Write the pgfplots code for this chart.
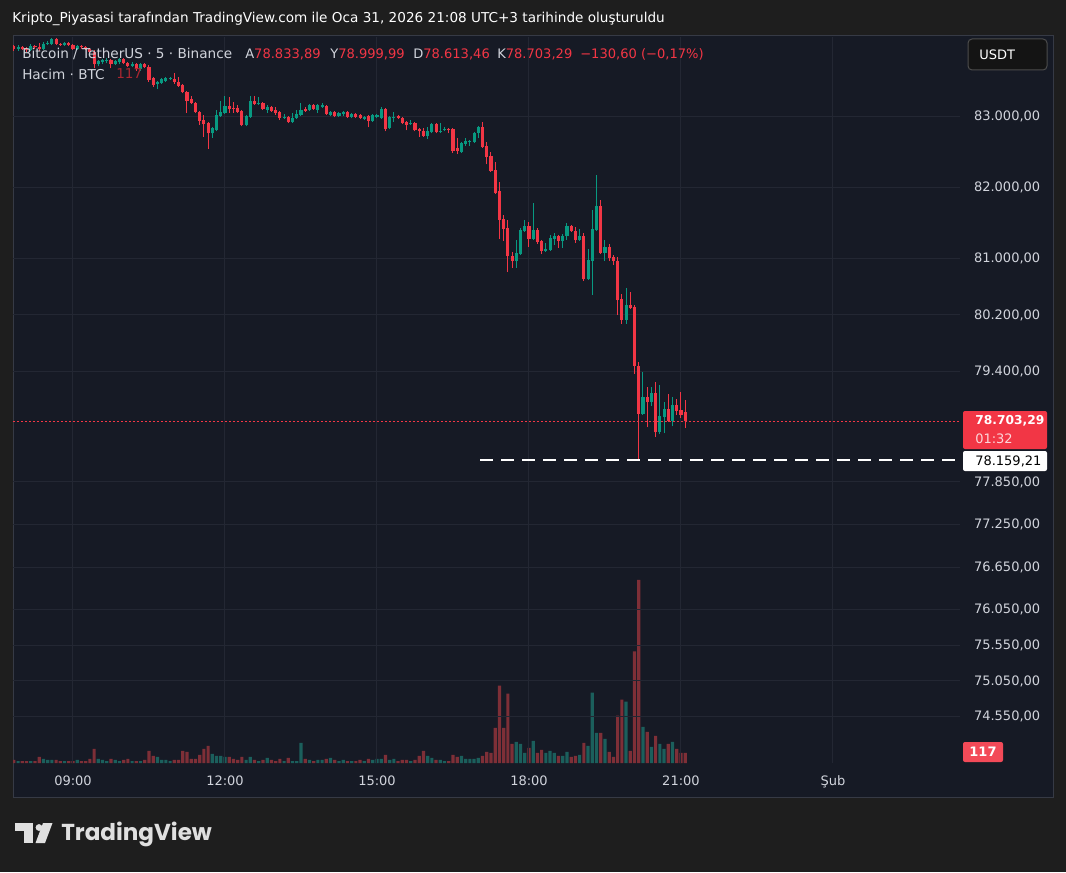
\documentclass[border=0pt]{standalone}
\usepackage{pgfplots}
\pgfplotsset{compat=1.18}
\usepackage{pgfplotstable}
\usepackage{fontspec}
\setmainfont{DejaVu Sans}
\newfontfamily\tvfont{Poppins}

\definecolor{outerbg}{HTML}{1E1E1E}
\definecolor{panebg}{HTML}{161A25}
\definecolor{paneline}{HTML}{363A45}
\definecolor{gridc}{HTML}{232733}
\definecolor{upc}{HTML}{089981}
\definecolor{dnc}{HTML}{F23645}
\definecolor{upv}{HTML}{1B5F5C}
\definecolor{dnv}{HTML}{7E2F37}
\definecolor{txt}{HTML}{D1D4DC}
\definecolor{logoc}{HTML}{E0E0E0}

\newcommand\tf{\fontsize{9.75}{11.7}\selectfont}
\newcommand\hf{\fontsize{10.2}{12.2}\selectfont}
\newcommand\nf{\fontsize{9.8}{11.8}\selectfont}

% 5-minute bars: n = minutes since 00:00 / 5 ; o h l c in USDT, v in BTC
\pgfplotstableread{
n o h l c v
94 83989 84004 83917 83946 35
96 83975 83989 83931 83946 23
97 83946 83975 83902 83931 23
99 83989 84004 83946 83975 23
100 83975 84033 83917 83946 70
104 84077 84091 84004 84019 35
105 84019 84033 83989 84004 23
107 84033 84048 83989 84004 23
108 84004 84019 83931 83946 23
110 83989 84004 83946 83975 23
111 83975 83989 83931 83946 23
112 83946 83960 83873 83902 47
113 83902 83931 83669 83728 164
117 83786 83800 83669 83728 47
120 83800 83815 83728 83742 35
121 83742 83757 83684 83698 47
123 83728 83742 83640 83655 23
125 83728 83742 83669 83684 35
126 83684 83713 83480 83509 140
127 83538 83553 83407 83437 82
132 83524 83611 83451 83480 35
133 83480 83553 83407 83422 35
134 83437 83451 83320 83335 140
135 83335 83349 83044 83218 129
136 83233 83276 83175 83189 47
137 83189 83204 83044 83058 47
138 83058 83073 82870 82928 94
139 82942 83015 82710 82884 164
140 82899 82913 82536 82754 199
145 83146 83262 83044 83102 70
146 83116 83204 83044 83102 47
147 83116 83160 83044 83058 35
148 83073 83087 82855 82870 70
151 83218 83276 83160 83175 35
153 83189 83204 83087 83102 35
155 83131 83146 83058 83073 35
156 83087 83131 83015 83044 23
157 83058 83073 82942 82971 47
159 82986 83000 82899 82913 59
163 83102 83131 83058 83073 47
165 83160 83175 83087 83102 23
168 83146 83160 83015 83029 47
170 83058 83073 82986 83000 35
173 83058 83073 82971 82986 23
175 83029 83044 82971 82986 23
176 83015 83029 82957 82971 35
178 83000 83015 82841 82928 47
182 83102 83116 82783 82812 94
185 83000 83015 82957 82971 23
186 82971 82986 82884 82899 35
187 82913 82928 82797 82870 35
189 82899 82913 82783 82797 35
190 82812 82826 82710 82783 82
191 82783 82826 82710 82725 140
194 82884 82899 82754 82768 35
197 82812 82826 82754 82797 23
198 82812 82826 82478 82507 94
199 82551 82696 82464 82507 70
205 82841 82913 82551 82565 82
206 82580 82638 82319 82420 129
207 82435 82493 82217 82232 117
208 82246 82348 81900 81914 410
209 81943 82073 81271 81543 901
210 81557 81614 81243 81414 410
211 81428 81543 80803 81029 807
212 81029 81086 80860 80958 222
216 81457 81514 81157 81271 176
218 81400 81428 81200 81228 117
219 81243 81257 81057 81100 152
223 81314 81328 81143 81243 82
226 81457 81471 81371 81386 70
227 81386 81443 81214 81257 82
229 81314 81357 80677 80705 234
233 81728 81814 81057 81071 351
235 81157 81200 80958 81000 129
236 81014 81043 80902 80958 70
237 80958 81014 80200 80410 550
238 80424 80495 80073 80130 737
240 80340 80523 80284 80298 140
241 80312 80340 79373 79484 1299
242 79484 79540 78159.21 78810 2129
244 79043 79180 78618 78975 363
246 79098 79263 78481 78549 316
249 78879 79084 78700 78714 222
251 78934 79016 78796 78851 164
252 78865 79112 78755 78796 117
253 78833.89 78999.99 78613.46 78703.29 117
}\dnbars

\pgfplotstableread{
n o h l c v
95 83946 84004 83917 83975 23
98 83931 84019 83917 83989 23
101 83946 84048 83931 84019 47
102 84019 84062 84004 84033 35
103 84019 84091 84004 84077 35
106 84004 84048 83989 84033 23
109 83946 84004 83931 83989 35
114 83728 83786 83698 83771 47
115 83757 83800 83728 83786 35
116 83771 83815 83742 83786 23
118 83728 83786 83713 83771 35
119 83757 83815 83728 83800 23
122 83698 83757 83684 83728 23
124 83655 83742 83640 83728 23
128 83451 83495 83378 83480 70
129 83466 83538 83451 83524 35
130 83495 83553 83480 83538 35
131 83524 83553 83509 83538 23
141 82754 82841 82696 82826 105
142 82797 83087 82783 83015 82
143 83000 83218 82986 83058 82
144 83044 83276 83029 83146 70
149 82870 83015 82855 83000 35
150 82986 83276 82971 83218 70
152 83175 83262 83160 83189 23
154 83087 83160 83044 83131 59
158 82971 83029 82957 82986 23
160 82913 83044 82899 82971 23
161 82971 83087 82957 83029 23
162 83015 83189 83000 83087 234
164 83087 83175 83073 83160 35
166 83087 83175 83044 83160 35
167 83131 83189 83116 83160 35
169 83015 83073 83000 83058 59
171 83000 83058 82986 83044 23
172 83029 83073 83000 83058 35
174 82986 83044 82971 83029 23
177 82957 83000 82942 82986 23
179 82928 83029 82913 83015 35
180 82986 83029 82971 83015 47
181 82971 83131 82957 83102 47
183 82826 83000 82812 82986 35
184 82971 83058 82913 82986 47
188 82884 82942 82870 82899 23
192 82725 82841 82681 82783 82
193 82768 82899 82754 82884 59
195 82768 82899 82754 82783 35
196 82797 82841 82783 82812 23
200 82493 82638 82478 82623 82
201 82609 82696 82580 82652 47
202 82638 82667 82580 82652 47
203 82638 82768 82623 82754 47
204 82754 82855 82696 82841 59
213 80958 81257 80860 81071 246
214 81057 81428 81043 81400 222
215 81386 81543 81371 81457 117
217 81271 81771 81257 81400 257
220 81100 81214 81086 81129 117
221 81114 81328 81100 81286 140
222 81271 81357 81186 81314 117
224 81243 81343 81143 81314 82
225 81314 81500 81257 81457 129
228 81257 81414 81243 81314 94
230 80705 81129 80691 80972 199
231 80958 81671 80481 81414 819
232 81400 82174 81386 81728 351
234 81071 81257 80958 81157 281
239 80130 80579 80073 80340 714
243 78810 79400 78796 79043 421
245 78975 79180 78920 79098 187
247 78549 79208 78522 78782 222
248 78768 78975 78535 78879 164
250 78714 79043 78632 78934 246
}\upbars

\begin{document}
\begin{tikzpicture}
% frame and pane (1 px = 0.75pt)
\begin{scope}[x=0.75pt, y=0.75pt]
\fill[outerbg] (0,0) rectangle (1066,872);
\fill[panebg] (13,75) rectangle (1053,836);
\draw[paneline, line width=0.75pt] (13,75) rectangle (1053,836);
\end{scope}

% volume pane
\begin{axis}[at={(9.75pt,81.75pt)}, anchor=south west, scale only axis,
    width=710.25pt, height=544.5pt,
    xmin=93.79, xmax=318.09, ymin=0, ymax=8446, hide axis]
  \addplot[ybar, bar width=2.4pt, bar shift=0pt, fill=dnv, draw=none] table[x=n, y=v] {\dnbars};
  \addplot[ybar, bar width=2.4pt, bar shift=0pt, fill=upv, draw=none] table[x=n, y=v] {\upbars};
\end{axis}

% price pane
\begin{axis}[at={(9.75pt,81.75pt)}, anchor=south west, scale only axis,
    width=710.25pt, height=544.5pt,
    xmin=93.79, xmax=318.09,
    ymin=73895, ymax=84112,
    axis line style={draw=none}, major tick length=0pt,
    scaled y ticks=false,
    xtick={108,144,180,216,252,288},
    xticklabels={09:00,12:00,15:00,18:00,21:00,Şub},
    ytick={74550,75050,75550,76050,76650,77250,77850,79400,80200,81000,82000,83000},
    yticklabels={{74.550,00},{75.050,00},{75.550,00},{76.050,00},{76.650,00},{77.250,00},
                 {77.850,00},{79.400,00},{80.200,00},{81.000,00},{82.000,00},{83.000,00}},
    yticklabel pos=right,
    grid=major, major grid style={gridc, line width=0.75pt},
    tick label style={font=\tf, text=txt},
    xticklabel style={yshift=-6pt},
    yticklabel style={anchor=west, xshift=7pt}]
  % wicks
  \addplot[draw=none, forget plot, error bars/.cd, y dir=plus, y explicit, error mark=none,
      error bar style={draw=dnc, line width=0.75pt}]
    table[x=n, y=l, y error plus expr=\thisrow{h}-\thisrow{l}] {\dnbars};
  \addplot[draw=none, forget plot, error bars/.cd, y dir=plus, y explicit, error mark=none,
      error bar style={draw=upc, line width=0.75pt}]
    table[x=n, y=l, y error plus expr=\thisrow{h}-\thisrow{l}] {\upbars};
  % bodies
  \addplot[draw=none, forget plot, error bars/.cd, y dir=plus, y explicit, error mark=none,
      error bar style={draw=dnc, line width=2.3pt}]
    table[x=n, y=c, y error plus expr=\thisrow{o}-\thisrow{c}] {\dnbars};
  \addplot[draw=none, forget plot, error bars/.cd, y dir=plus, y explicit, error mark=none,
      error bar style={draw=upc, line width=2.3pt}]
    table[x=n, y=o, y error plus expr=\thisrow{c}-\thisrow{o}] {\upbars};
  % last price and low line
  \addplot[dnc, line width=1pt, dash pattern=on 1.5pt off 1.5pt] coordinates {(93.79,78703.29) (318.09,78703.29)};
  \addplot[white, line width=1.5pt, dash pattern=on 9.75pt off 6pt] coordinates {(204.4,78159.21) (318.09,78159.21)};
\end{axis}

\begin{scope}[x=0.75pt, y=0.75pt]
% header
\node[anchor=west, font=\hf, text=white, inner sep=0pt] at (12,853)
  {Kripto\_Piyasasi tarafından TradingView.com ile Oca 31, 2026 21:08 UTC+3 tarihinde oluşturuldu};
\node[anchor=west, font=\hf, text=txt, inner sep=0pt] at (22,818) {Bitcoin / TetherUS · 5 · Binance};
\node[anchor=west, font=\nf, inner sep=0pt] at (245,818) {\color{txt}A\color{dnc}78.833,89};
\node[anchor=west, font=\nf, inner sep=0pt] at (330,818) {\color{txt}Y\color{dnc}78.999,99};
\node[anchor=west, font=\nf, inner sep=0pt] at (413,818) {\color{txt}D\color{dnc}78.613,46};
\node[anchor=west, font=\nf, inner sep=0pt] at (497,818) {\color{txt}K\color{dnc}78.703,29};
\node[anchor=west, font=\nf, inner sep=0pt, text=dnc] at (580,818) {−130,60 (−0,17\%)};
\node[anchor=west, font=\hf, text=txt, inner sep=0pt] at (22,798) {Hacim · BTC};
\node[anchor=west, font=\hf, text=dnc!70!black, inner sep=0pt] at (116,798) {117};

% USDT button
\draw[rounded corners=3pt, draw=black!70!white, fill=black!92!white, line width=0.75pt] (968,802) rectangle (1047,833);
\node[anchor=west, font=\tf, text=white, inner sep=0pt] at (979,817.5) {USDT};

% price scale labels
\fill[dnc, rounded corners=1.5pt] (963,423) rectangle (1047,461);
\node[anchor=west, font=\fontsize{9.2}{11}\selectfont\bfseries, text=white, inner sep=0pt] at (975,451) {78.703,29};
\node[anchor=west, font=\tf, text=white!80!dnc, inner sep=0pt] at (975,433) {01:32};
\fill[white, rounded corners=1.5pt] (963,401) rectangle (1047,421);
\node[anchor=west, font=\tf, text=black, inner sep=0pt] at (975,411) {78.159,21};
\fill[dnc!90!white, rounded corners=1.5pt] (963,110) rectangle (1003,130);
\node[font=\tf\bfseries, text=white, inner sep=0pt] at (983,120) {117};

% TradingView logo
\fill[logoc] (15,41) rectangle (33,49);
\fill[logoc] (24,29) rectangle (33,49);
\fill[logoc] (39,44.5) circle (3.4);
\fill[logoc] (43,49) -- (52.5,49) -- (45,29) -- (35.5,29) -- cycle;
\node[anchor=west, font=\tvfont\bfseries\fontsize{17.3}{19}\selectfont, text=logoc, inner sep=0pt] at (61,38) {TradingView};
\end{scope}
\end{tikzpicture}
\end{document}
